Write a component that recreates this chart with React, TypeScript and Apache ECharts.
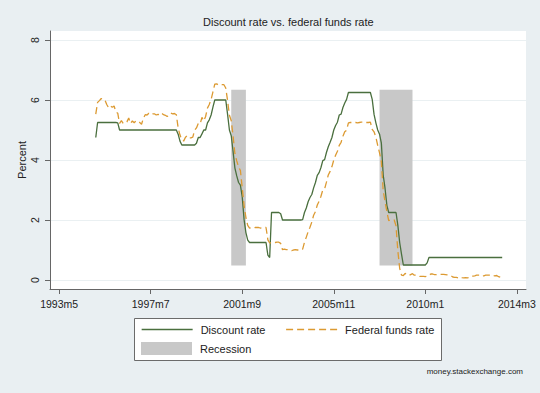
import React, { useEffect, useRef } from "react";
import * as echarts from "echarts";

// Monthly Stata-style dates: months since 1960m1. 1995m1 = 420.
const firstMonth = 420;

// Discount rate, 1995m1 .. 2013m7 (percent)
const discountRate: number[] = [
  // 1995
  4.75, 5.25, 5.25, 5.25, 5.25, 5.25, 5.25, 5.25, 5.25, 5.25, 5.25, 5.25,
  // 1996
  5.24, 5.0, 5.0, 5.0, 5.0, 5.0, 5.0, 5.0, 5.0, 5.0, 5.0, 5.0,
  // 1997
  5.0, 5.0, 5.0, 5.0, 5.0, 5.0, 5.0, 5.0, 5.0, 5.0, 5.0, 5.0,
  // 1998
  5.0, 5.0, 5.0, 5.0, 5.0, 5.0, 5.0, 5.0, 5.0, 4.86, 4.63, 4.5,
  // 1999
  4.5, 4.5, 4.5, 4.5, 4.5, 4.5, 4.5, 4.56, 4.75, 4.75, 4.87, 5.0,
  // 2000
  5.0, 5.24, 5.34, 5.5, 5.76, 6.0, 6.0, 6.0, 6.0, 6.0, 6.0, 6.0,
  // 2001
  5.52, 5.0, 4.81, 4.28, 3.73, 3.47, 3.25, 3.16, 2.77, 2.02, 1.58, 1.33,
  // 2002
  1.25, 1.25, 1.25, 1.25, 1.25, 1.25, 1.25, 1.25, 1.25, 1.25, 0.83, 0.75,
  // 2003
  2.25, 2.25, 2.25, 2.25, 2.25, 2.21, 2.0, 2.0, 2.0, 2.0, 2.0, 2.0,
  // 2004
  2.0, 2.0, 2.0, 2.0, 2.0, 2.01, 2.25, 2.4, 2.61, 2.75, 2.85, 3.07,
  // 2005
  3.25, 3.49, 3.58, 3.75, 3.98, 4.01, 4.25, 4.44, 4.59, 4.75, 5.0, 5.15,
  // 2006
  5.26, 5.5, 5.53, 5.75, 5.9, 6.02, 6.25, 6.25, 6.25, 6.25, 6.25, 6.25,
  // 2007
  6.25, 6.25, 6.25, 6.25, 6.25, 6.25, 6.25, 6.02, 5.52, 5.24, 5.0, 4.86,
  // 2008
  4.56, 3.5, 3.06, 2.49, 2.25, 2.25, 2.25, 2.25, 2.25, 1.82, 1.25, 0.86,
  // 2009
  0.5, 0.5, 0.5, 0.5, 0.5, 0.5, 0.5, 0.5, 0.5, 0.5, 0.5, 0.5,
  // 2010
  0.5, 0.57, 0.75, 0.75, 0.75, 0.75, 0.75, 0.75, 0.75, 0.75, 0.75, 0.75,
  // 2011
  0.75, 0.75, 0.75, 0.75, 0.75, 0.75, 0.75, 0.75, 0.75, 0.75, 0.75, 0.75,
  // 2012
  0.75, 0.75, 0.75, 0.75, 0.75, 0.75, 0.75, 0.75, 0.75, 0.75, 0.75, 0.75,
  // 2013
  0.75, 0.75, 0.75, 0.75, 0.75, 0.75, 0.75,
];

// Federal funds rate, 1995m1 .. 2013m7 (percent)
const fedFundsRate: number[] = [
  // 1995
  5.53, 5.92, 5.98, 6.05, 6.01, 6.0, 5.85, 5.74, 5.8, 5.76, 5.8, 5.6,
  // 1996
  5.56, 5.22, 5.31, 5.22, 5.24, 5.27, 5.4, 5.22, 5.3, 5.24, 5.31, 5.29,
  // 1997
  5.25, 5.19, 5.39, 5.51, 5.5, 5.56, 5.52, 5.54, 5.54, 5.5, 5.52, 5.5,
  // 1998
  5.56, 5.51, 5.49, 5.45, 5.49, 5.56, 5.54, 5.55, 5.51, 5.07, 4.83, 4.68,
  // 1999
  4.63, 4.76, 4.81, 4.74, 4.74, 4.76, 4.99, 5.07, 5.22, 5.2, 5.42, 5.3,
  // 2000
  5.45, 5.73, 5.85, 6.02, 6.27, 6.53, 6.54, 6.5, 6.52, 6.51, 6.51, 6.4,
  // 2001
  5.98, 5.49, 5.31, 4.8, 4.21, 3.97, 3.77, 3.65, 3.07, 2.49, 2.09, 1.82,
  // 2002
  1.73, 1.74, 1.73, 1.75, 1.75, 1.75, 1.73, 1.74, 1.75, 1.75, 1.34, 1.24,
  // 2003
  1.24, 1.26, 1.25, 1.26, 1.26, 1.22, 1.01, 1.03, 1.01, 1.01, 1.0, 0.98,
  // 2004
  1.0, 1.01, 1.0, 1.0, 1.0, 1.03, 1.26, 1.43, 1.61, 1.76, 1.93, 2.16,
  // 2005
  2.28, 2.5, 2.63, 2.79, 3.0, 3.04, 3.26, 3.5, 3.62, 3.78, 4.0, 4.16,
  // 2006
  4.29, 4.49, 4.59, 4.79, 4.94, 4.99, 5.24, 5.25, 5.25, 5.25, 5.25, 5.24,
  // 2007
  5.25, 5.26, 5.26, 5.25, 5.25, 5.25, 5.26, 5.02, 4.94, 4.76, 4.49, 4.24,
  // 2008
  3.94, 2.98, 2.61, 2.28, 1.98, 2.0, 2.01, 2.0, 1.81, 0.97, 0.39, 0.16,
  // 2009
  0.15, 0.22, 0.18, 0.15, 0.18, 0.21, 0.16, 0.16, 0.15, 0.12, 0.12, 0.12,
  // 2010
  0.11, 0.13, 0.16, 0.2, 0.2, 0.18, 0.18, 0.19, 0.19, 0.19, 0.19, 0.18,
  // 2011
  0.17, 0.16, 0.14, 0.1, 0.09, 0.09, 0.07, 0.1, 0.08, 0.07, 0.08, 0.07,
  // 2012
  0.08, 0.1, 0.13, 0.14, 0.16, 0.16, 0.16, 0.13, 0.14, 0.16, 0.16, 0.16,
  // 2013
  0.14, 0.15, 0.14, 0.15, 0.11, 0.09, 0.09,
];

// Recessions (months since 1960m1) and their drawn band limits
const recessionStart: number[] = [494, 575]; // 2001m3, 2007m12
const recessionEnd: number[] = [502, 593]; // 2001m11, 2009m6
const recessionLow: number[] = [0.48, 0.48];
const recessionHigh: number[] = [6.34, 6.34];

const xTickMonths: number[] = [400, 450, 500, 550, 600, 650];
const yTicks: number[] = [0, 2, 4, 6, 8];

const FONT = "'Liberation Sans', Arial, Helvetica, sans-serif";
const GREEN = "#4a6f3e";
const ORANGE = "#dc9a32";
const GRAY = "#c8c8c8";

function monthLabel(v: number): string {
  const y = 1960 + Math.floor(v / 12);
  const m = (v % 12) + 1;
  return `${y}m${m}`;
}

export default function App() {
  const ref = useRef<HTMLDivElement>(null);

  useEffect(() => {
    document.body.style.margin = "0";
    if (!ref.current) return;
    const chart = echarts.init(ref.current, undefined, { renderer: "svg" });

    const discountData = discountRate.map((v, i) => [firstMonth + i, v]);
    const fedData = fedFundsRate.map((v, i) => [firstMonth + i, v]);
    const recessionData = recessionStart.map((s, i) => [
      s,
      recessionEnd[i],
      recessionLow[i],
      recessionHigh[i],
    ]);

    chart.setOption({
      animation: false,
      backgroundColor: "#e9eff2",
      textStyle: { fontFamily: FONT },
      title: [
        {
          text: "Discount rate vs. federal funds rate",
          left: 203,
          top: 16,
          padding: 0,
          textStyle: { fontSize: 11, fontWeight: "normal", color: "#222", fontFamily: FONT },
        },
        {
          text: "money.stackexchange.com",
          right: 17,
          top: 367,
          padding: 0,
          textStyle: { fontSize: 8, fontWeight: "normal", color: "#222", fontFamily: FONT },
        },
      ],
      graphic: [
        {
          type: "rect",
          z: 0,
          silent: true,
          shape: { x: 134.5, y: 318.5, width: 307, height: 42 },
          style: { fill: "#ffffff", stroke: "#6b6b6b", lineWidth: 1 },
        },
      ],
      legend: [
        {
          data: [
            { name: "Discount rate", lineStyle: { color: GREEN, width: 1.3 } },
            {
              name: "Federal funds rate",
              lineStyle: { color: ORANGE, width: 1.3, type: [7, 4] },
            },
          ],
          left: 141,
          top: 324,
          padding: 0,
          itemWidth: 51,
          itemHeight: 13,
          itemGap: 20,
          itemStyle: { opacity: 0 },
          textStyle: { fontSize: 11, color: "#222", fontFamily: FONT, padding: [0, 0, 0, 3] },
          z: 5,
        },
        {
          data: [{ name: "Recession", icon: "rect" }],
          left: 141,
          top: 342,
          padding: 0,
          itemWidth: 51,
          itemHeight: 13,
          textStyle: { fontSize: 11, color: "#222", fontFamily: FONT, padding: [0, 0, 0, 3] },
          z: 5,
        },
      ],
      grid: {
        left: 50,
        right: 14,
        top: 31,
        bottom: 104,
        show: true,
        backgroundColor: "#ffffff",
        borderWidth: 0,
        containLabel: false,
      },
      xAxis: {
        type: "value",
        min: 395,
        max: 655,
        axisLine: { show: true, onZero: false, lineStyle: { color: "#666", width: 1 } },
        axisTick: {
          show: true,
          length: 5,
          customValues: xTickMonths,
          lineStyle: { color: "#666" },
        },
        axisLabel: {
          customValues: xTickMonths,
          formatter: (v: number) => monthLabel(v),
          fontSize: 10.5,
          color: "#222",
          margin: 9,
          fontFamily: FONT,
        },
        splitLine: { show: false },
      },
      yAxis: {
        type: "value",
        min: -0.3,
        max: 8.3,
        name: "Percent",
        nameLocation: "middle",
        nameGap: 23,
        nameRotate: 90,
        nameMoveOverlap: false,
        nameTextStyle: { fontSize: 11, color: "#222", fontFamily: FONT },
        axisLine: { show: true, onZero: false, lineStyle: { color: "#666", width: 1 } },
        axisTick: {
          show: true,
          length: 5,
          customValues: yTicks,
          lineStyle: { color: "#666" },
        },
        axisLabel: {
          customValues: yTicks,
          rotate: 90,
          fontSize: 10.5,
          color: "#222",
          margin: 10,
          fontFamily: FONT,
        },
        splitLine: { show: true, lineStyle: { color: "#eaf0f2", width: 1 } },
      },
      series: [
        {
          name: "Recession",
          type: "custom",
          z: 1,
          silent: true,
          itemStyle: { color: GRAY },
          encode: { x: [0, 1], y: [2, 3] },
          data: recessionData,
          renderItem: (_params: any, api: any) => {
            const p0 = api.coord([api.value(0), api.value(3)]);
            const p1 = api.coord([api.value(1), api.value(2)]);
            return {
              type: "rect",
              shape: { x: p0[0], y: p0[1], width: p1[0] - p0[0], height: p1[1] - p0[1] },
              style: { fill: GRAY },
            };
          },
        },
        {
          name: "Discount rate",
          type: "line",
          z: 3,
          data: discountData,
          symbol: "none",
          showSymbol: false,
          color: GREEN,
          lineStyle: { color: GREEN, width: 1.3 },
          itemStyle: { color: GREEN },
        },
        {
          name: "Federal funds rate",
          type: "line",
          z: 4,
          data: fedData,
          symbol: "none",
          showSymbol: false,
          color: ORANGE,
          lineStyle: { color: ORANGE, width: 1.3, type: [7, 4] },
          itemStyle: { color: ORANGE },
        },
      ],
    });

    return () => chart.dispose();
  }, []);

  return <div ref={ref} style={{ width: 540, height: 393 }} />;
}
